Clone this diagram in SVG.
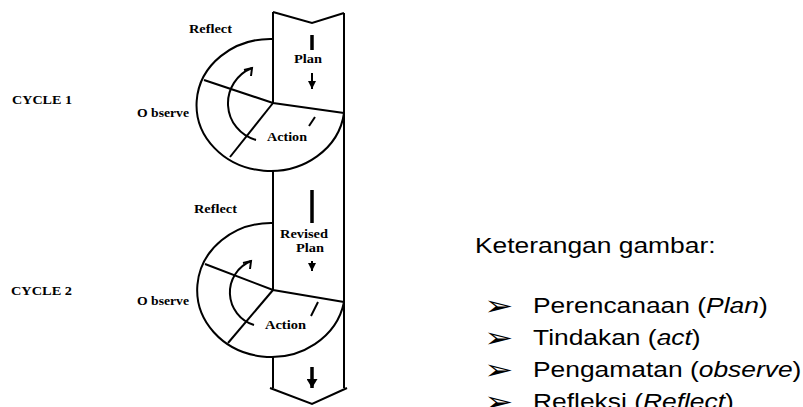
<svg xmlns="http://www.w3.org/2000/svg" width="803" height="407" viewBox="0 0 803 407">
<defs>
<style>
.ln{fill:none;stroke:#000;stroke-width:2;stroke-linejoin:miter}
.bar{stroke:#000;stroke-width:3.5;fill:none}
.thin{fill:none;stroke:#000;stroke-width:2}
.lbl{font-family:"Liberation Serif",serif;font-weight:bold;font-size:12px;fill:#000}
.leg{font-family:"Liberation Sans",Arial,sans-serif;font-size:22px;fill:#000}
.bul{font-family:"DejaVu Sans",sans-serif;font-size:27px;fill:#000}
</style>
<marker id="ah" markerUnits="userSpaceOnUse" markerWidth="8" markerHeight="8" refX="8" refY="4" orient="auto">
<path d="M0,0 L8,4 L0,8 z" fill="#000"/>
</marker>
<marker id="ahb" markerUnits="userSpaceOnUse" markerWidth="10" markerHeight="11" refX="9" refY="5.5" orient="auto">
<path d="M0,0 L9,5.5 L0,11 z" fill="#000"/>
</marker>
</defs>
<rect width="803" height="407" fill="#fff"/>

<g id="band">
<path class="ln" d="M273,12 L312,23 L344,13"/>
<path class="ln" d="M344,13 L344,388"/>
<path class="ln" d="M273,12 L273,103"/>
<path class="ln" d="M273,170 L273,290"/>
<path class="ln" d="M273,357 L273,388"/>
<path class="ln" d="M270,388 L312,404 L347,388"/>
</g>

<g id="cycle1">
<path class="ln" d="M273,39 A74,66 0 1 0 344,113"/>
<path class="ln" d="M204,80 L273,103 L344,113"/>
<path class="ln" d="M273,103 L230,157"/>
</g>

<g id="cycle2">
<path class="ln" d="M273,223 A74,67 0 1 0 344,302"/>
<path class="ln" d="M205,264 L273,290 L344,302"/>
<path class="ln" d="M273,290 L228,343"/>
</g>

<g id="connectors">
<line class="bar" x1="312" y1="35" x2="312" y2="50"/>
<line class="thin" x1="312" y1="73" x2="312" y2="89" marker-end="url(#ah)"/>
<line class="thin" x1="315" y1="117" x2="309" y2="126"/>
<path class="thin" d="M256,140 A38,38 0 0 1 252,68"/>
<polyline class="thin" points="244,70 252,68 251,76"/>

<line class="bar" x1="312" y1="190" x2="312" y2="223"/>
<line class="thin" x1="312" y1="261" x2="312" y2="271" marker-end="url(#ah)"/>
<line class="thin" x1="318" y1="302" x2="311" y2="316"/>
<path class="thin" d="M254,325 A34,34 0 0 1 251,261"/>
<polyline class="thin" points="243,263 251,261 250,269"/>

<line class="bar" x1="312" y1="367" x2="312" y2="388" marker-end="url(#ahb)"/>
</g>

<g id="labels">
<text class="lbl" x="189" y="33" textLength="43" lengthAdjust="spacingAndGlyphs">Reflect</text>
<text class="lbl" x="12" y="104" textLength="60" lengthAdjust="spacingAndGlyphs">CYCLE 1</text>
<text class="lbl" x="137" y="117" textLength="52" lengthAdjust="spacingAndGlyphs">O bserve</text>
<text class="lbl" x="294" y="63" textLength="28" lengthAdjust="spacingAndGlyphs">Plan</text>
<text class="lbl" x="267" y="141" textLength="40" lengthAdjust="spacingAndGlyphs">Action</text>
<text class="lbl" x="194" y="213" textLength="43" lengthAdjust="spacingAndGlyphs">Reflect</text>
<text class="lbl" x="11" y="295" textLength="61" lengthAdjust="spacingAndGlyphs">CYCLE 2</text>
<text class="lbl" x="137" y="305" textLength="52" lengthAdjust="spacingAndGlyphs">O bserve</text>
<text class="lbl" x="280" y="238" textLength="48" lengthAdjust="spacingAndGlyphs">Revised</text>
<text class="lbl" x="296" y="252" textLength="28" lengthAdjust="spacingAndGlyphs">Plan</text>
<text class="lbl" x="265" y="329" textLength="41" lengthAdjust="spacingAndGlyphs">Action</text>
</g>

<g id="legend">
<text class="leg" transform="translate(475,253) scale(1.2,1)">Keterangan gambar:</text>
<text class="bul" transform="translate(484,314.5) scale(1.3,1)">➢</text>
<text class="leg" transform="translate(533,313) scale(1.2,1)">Perencanaan (<tspan font-style="italic">Plan</tspan>)</text>
<text class="bul" transform="translate(484,346.5) scale(1.3,1)">➢</text>
<text class="leg" transform="translate(533,345) scale(1.2,1)">Tindakan (<tspan font-style="italic">act</tspan>)</text>
<text class="bul" transform="translate(484,378.5) scale(1.3,1)">➢</text>
<text class="leg" transform="translate(533,377) scale(1.2,1)">Pengamatan (<tspan font-style="italic">observe</tspan>)</text>
<text class="bul" transform="translate(484,410.5) scale(1.3,1)">➢</text>
<text class="leg" transform="translate(533,409) scale(1.2,1)">Refleksi (<tspan font-style="italic">Reflect</tspan>)</text>
</g>
</svg>
